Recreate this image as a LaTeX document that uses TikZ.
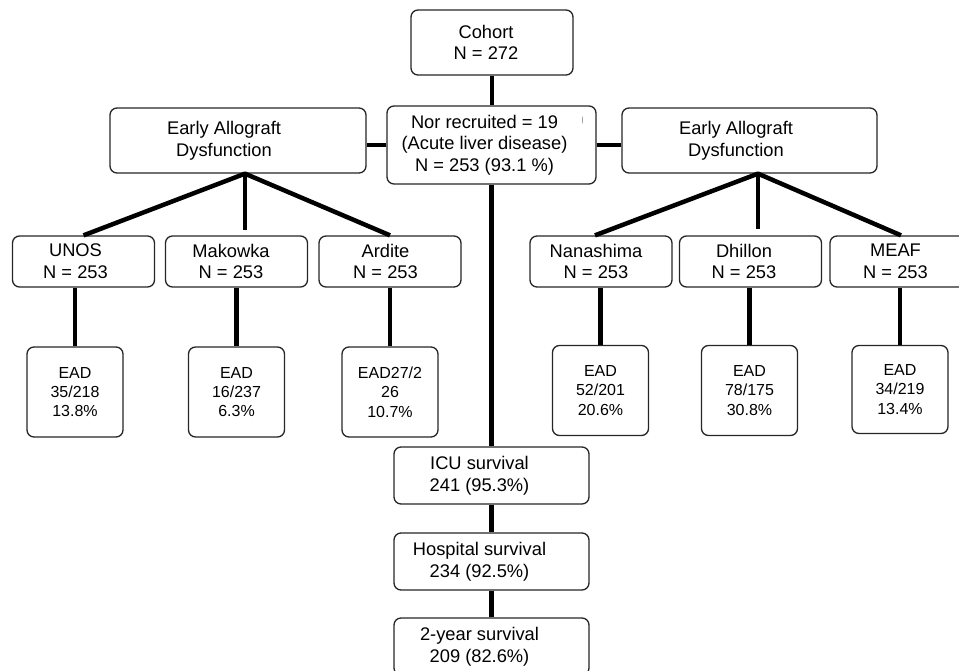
\documentclass[tikz,border=0pt]{standalone}
\usepackage{fontspec}
\setmainfont{Liberation Sans}
\usetikzlibrary{positioning,calc}

\begin{document}
\begin{tikzpicture}[x=1pt,y=-1pt, line cap=round, line join=round]
	\useasboundingbox (0,0) rectangle (959,670);
	\clip (0,0) rectangle (959,670);
	
	% ===== styles =====
	\tikzset{
		box/.style={draw=black!85, line width=1.3pt, rounded corners=7pt, fill=white, inner sep=0pt},
		txt/.style={align=center, inner sep=0pt, font=\fontsize{18.3}{21.7}\selectfont},
		small/.style={align=center, inner sep=0pt, font=\fontsize{16}{19.3}\selectfont},
		link/.style={line width=4.5pt, line cap=butt, line join=round}
	}
	
	% ===== cohort + middle box =====
	\node[box, minimum width=162pt, minimum height=65pt] (cohort) at (492,42.5) {};
	\node[txt] (cohort-t) at ([xshift=-6pt]cohort.center) {Cohort\\N = 272};
	
	\node[box, minimum width=209pt, minimum height=78pt] (recr) at (491.5,145) {};
	\node[txt] (recr-t) at ([xshift=-7pt]recr.center) {Nor recruited = 19\\(Acute liver disease)\\N = 253 (93.1 \%)};
	
	% ===== early allograft dysfunction (left / right) =====
	\node[box, minimum width=256pt, minimum height=65pt] (eadL) at (238,140.5) {};
	\node[txt] (eadL-t) at ([xshift=-14pt]eadL.center) {Early Allograft\\Dysfunction};
	
	\node[box, minimum width=255pt, minimum height=65pt] (eadR) at (749.5,140.5) {};
	\node[txt] (eadR-t) at ([xshift=-13.5pt]eadR.center) {Early Allograft\\Dysfunction};
	
	% ===== score boxes, N = 253 =====
	\foreach \nm/\cx/\lbl/\dx in {unos/83.5/UNOS/-8, mako/236.5/Makowka/-5.5, ardi/390/Ardite/-4.5,
		nana/601/Nanashima/-5, dhil/750.5/Dhillon/-6.5, meaf/901/MEAF/-5.5}{
		\node[box, minimum width=142pt, minimum height=51pt] (\nm) at (\cx,261.5) {};
		\node[txt] (\nm-t) at ([xshift=\dx pt]\nm.center) {\lbl\\N = 253};
	}
	
	% ===== EAD boxes =====
	\node[box, small, minimum width=96pt, minimum height=90pt] (e1) at (75,392) {EAD\\35/218\\13.8\%};
	\node[box, small, minimum width=96pt, minimum height=90pt] (e2) at (236.5,392) {EAD\\16/237\\6.3\%};
	\node[box, small, minimum width=96pt, minimum height=90pt] (e3) at (390,392) {EAD27/2\\26\\10.7\%};
	\node[box, small, minimum width=96pt, minimum height=90pt] (e4) at (600.5,390.5) {EAD\\52/201\\20.6\%};
	\node[box, small, minimum width=96pt, minimum height=90pt] (e5) at (749.5,390.5) {EAD\\78/175\\30.8\%};
	\node[box, small, minimum width=96pt, minimum height=88pt] (e6) at (900,389.5) {EAD\\34/219\\13.4\%};
	
	% ===== survival column =====
	\node[box, minimum width=195pt, minimum height=57pt] (icu) at (491.5,475.5) {};
	\node[txt] (icu-t) at ([xshift=-12pt]icu.center) {ICU survival\\241 (95.3\%)};
	
	\node[box, minimum width=195pt, minimum height=57pt] (hosp) at (491.5,561.5) {};
	\node[txt] (hosp-t) at ([xshift=-12pt]hosp.center) {Hospital survival\\234 (92.5\%)};
	
	\node[box, minimum width=195pt, minimum height=57pt] (surv) at (491.5,646.5) {};
	\node[txt] (surv-t) at ([xshift=-12pt]surv.center) {2-year survival\\209 (82.6\%)};
	
	% ===== connectors =====
	\draw[link] (cohort.south) -- (cohort.south |- recr.north);
	\draw[link] (recr.west) -- (recr.west -| eadL.east);
	\draw[link] (recr.east) -- (recr.east -| eadR.west);
	
	% fans
	\coordinate (fanL) at ([xshift=7pt]eadL.south);
	\coordinate (stubL) at (fanL |- 0,230);
	\draw[link] (unos.north) -- (fanL) -- (ardi.north);
	\draw[link] (fanL) -- (stubL);
	
	\coordinate (fanR) at ([xshift=8.5pt]eadR.south);
	\coordinate (stubR) at (fanR |- 0,229);
	\draw[link] ([xshift=-6pt]nana.north) -- (fanR) -- (meaf.north);
	\draw[link] (fanR) -- (stubR);
	
	% score -> EAD
	\foreach \up/\dn in {unos/e1, mako/e2, ardi/e3, nana/e4, dhil/e5, meaf/e6}{
		\draw[link] (\dn.north) -- (\dn.north |- \up.south);
	}
	
	\draw[link] (recr.south) -- (recr.south |- icu.north);
	\draw[link] (icu.south) -- (hosp.north);
	\draw[link] (hosp.south) -- (surv.north);
	
	% small mark
	\draw[black!35, line width=0.8pt] (582,117) -- (582,123);
\end{tikzpicture}
\end{document}
